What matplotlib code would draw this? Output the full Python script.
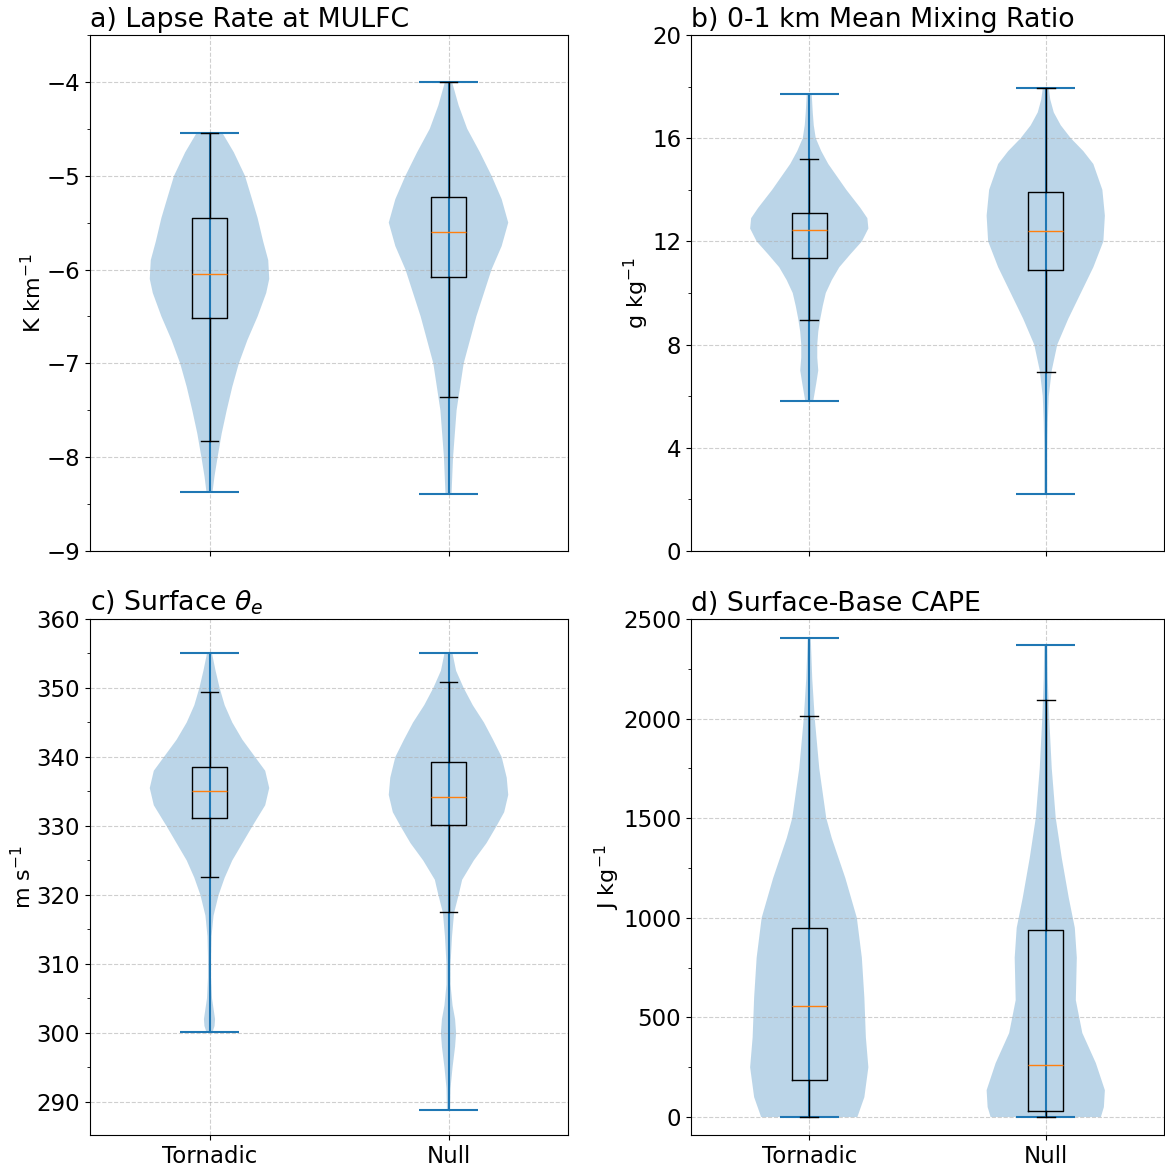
import numpy as np
import matplotlib
matplotlib.use("Agg")
import matplotlib.pyplot as plt
from matplotlib.ticker import AutoMinorLocator, MultipleLocator

groups = ["Tornadic", "Null"]

# ---- a) lapse rate at MULFC (K km-1) ----
a_tor_y = [-8.37, -8.2, -8.0, -7.75, -7.5, -7.25, -7.0, -6.75, -6.5, -6.25, -6.1, -5.9, -5.7, -5.45, -5.25, -5.0, -4.75, -4.54]
a_tor_w = [6, 10, 16, 24, 34, 45, 58, 75, 95, 112, 118, 116, 106, 95, 84, 70, 48, 25]
a_nul_y = [-8.39, -8.0, -7.5, -7.0, -6.5, -6.25, -6.0, -5.75, -5.5, -5.25, -5.0, -4.75, -4.5, -4.25, -4.0]
a_nul_w = [6, 9, 16, 30, 55, 70, 85, 105, 118, 105, 85, 62, 37, 20, 7]
a_box = [  # whislo, q1, med, q3, whishi
    (-7.83, -6.52, -6.05, -5.45, -4.54),
    (-7.36, -6.08, -5.60, -5.23, -4.00),
]

# ---- b) 0-1 km mean mixing ratio (g kg-1) ----
b_tor_y = [5.81, 6.5, 7.0, 7.5, 8.0, 8.5, 9.0, 9.5, 10.0, 10.5, 11.0, 11.5, 12.0, 12.5, 12.9, 13.3, 13.6, 14.0, 14.5, 15.0, 15.5, 16.0, 16.5, 17.0, 17.7]
b_tor_w = [8, 14, 18, 16, 16, 18, 22, 27, 33, 45, 60, 82, 105, 118, 116, 102, 90, 74, 56, 38, 24, 13, 9, 7, 5]
b_nul_y = [2.21, 3, 4, 5, 6, 7, 8, 9, 10, 11, 12, 13, 14, 15, 15.5, 16, 16.5, 17, 17.5, 17.93]
b_nul_w = [3, 3, 3, 4, 6, 12, 23, 45, 70, 95, 115, 118, 113, 95, 75, 50, 30, 16, 9, 6]
b_box = [
    (8.95, 11.34, 12.44, 13.09, 15.19),
    (6.94, 10.89, 12.40, 13.91, 17.93),
]

# ---- c) surface theta-e ----
c_tor_y = [300.1, 301, 302, 303, 305, 308, 311, 314, 317, 320, 322.5, 325, 327.5, 330, 333, 335.5, 338, 340, 342.5, 345, 347.5, 350, 352.5, 355]
c_tor_w = [6, 10, 11, 9, 5, 3, 3, 4, 8, 18, 30, 45, 65, 85, 110, 118, 110, 90, 65, 45, 30, 20, 12, 5]
c_nul_y = [288.8, 292, 295, 298, 300, 302, 304, 307, 310, 314, 317.4, 320, 322.2, 325, 327.5, 330, 332, 334.5, 337, 340, 342.5, 345, 347.5, 350, 352.5, 355]
c_nul_w = [3, 4, 8, 13, 15, 13, 8, 4, 4, 7, 11, 20, 27, 50, 75, 95, 110, 118, 115, 105, 88, 70, 48, 30, 15, 8]
c_box = [
    (322.6, 331.2, 335.1, 338.6, 349.4),
    (317.5, 330.1, 334.2, 339.3, 350.9),
]

# ---- d) surface-based CAPE (J kg-1) ----
d_tor_y = [0, 100, 250, 400, 600, 800, 1000, 1200, 1400, 1500, 1750, 2000, 2200, 2403]
d_tor_w = [96, 110, 118, 113, 110, 105, 95, 72, 45, 34, 20, 11, 6, 3]
d_nul_y = [0, 50, 135, 271, 422, 587, 800, 950, 1100, 1300, 1500, 1750, 2000, 2200, 2369]
d_nul_w = [110, 116, 118, 100, 73, 60, 62, 58, 46, 32, 20, 12, 7, 4, 3]
d_box = [
    (0, 186, 557, 949, 2013),
    (0, 30, 261, 939, 2093),
]

panels = [
    dict(title="a) Lapse Rate at MULFC", ylabel="K km$^{-1}$",
         violins=[(a_tor_y, a_tor_w), (a_nul_y, a_nul_w)], box=a_box,
         ylim=(-9, -3.5), major=1),
    dict(title="b) 0-1 km Mean Mixing Ratio", ylabel="g kg$^{-1}$",
         violins=[(b_tor_y, b_tor_w), (b_nul_y, b_nul_w)], box=b_box,
         ylim=(0, 20), major=4),
    dict(title=r"c) Surface $\theta_e$", ylabel="m s$^{-1}$",
         violins=[(c_tor_y, c_tor_w), (c_nul_y, c_nul_w)], box=c_box,
         ylim=(285.2, 360), major=10),
    dict(title="d) Surface-Base CAPE", ylabel="J kg$^{-1}$",
         violins=[(d_tor_y, d_tor_w), (d_nul_y, d_nul_w)], box=d_box,
         ylim=(-90, 2500), major=500),
]

W, H = 1165, 1169
fig = plt.figure(figsize=(W / 100, H / 100), dpi=100)
rects = [(90, 35, 478, 516), (691, 35, 473, 516),
         (90, 619, 478, 516), (691, 619, 473, 516)]

for i, (p, (x0, y0, w, h)) in enumerate(zip(panels, rects)):
    ax = fig.add_axes([x0 / W, 1 - (y0 + h) / H, w / W, h / H])
    stats = []
    for ys, ws in p["violins"]:
        stats.append(dict(coords=np.array(ys, float), vals=np.array(ws, float),
                          mean=np.mean(ys), median=np.median(ys),
                          min=ys[0], max=ys[-1]))
    ax.violin(stats, positions=[1, 2], widths=0.5)
    bstats = [dict(whislo=b[0], q1=b[1], med=b[2], q3=b[3], whishi=b[4], fliers=[])
              for b in p["box"]]
    ax.bxp(bstats, positions=[1, 2], widths=0.15, showfliers=False)
    ax.set_xlim(0.5, 2.5)
    ax.set_ylim(*p["ylim"])
    ax.yaxis.set_major_locator(MultipleLocator(p["major"]))
    ax.yaxis.set_minor_locator(AutoMinorLocator(2))
    ax.set_xticks([1, 2])
    if i >= 2:
        ax.set_xticklabels(groups)
    else:
        ax.set_xticklabels([])
    ax.tick_params(labelsize=16.5)
    ax.grid(True, linestyle="--", alpha=0.6)
    ax.set_title(p["title"], loc="left", fontsize=19.3)
    ax.set_ylabel(p["ylabel"], fontsize=16, labelpad=1)

fig.savefig("out.png", dpi=100)
